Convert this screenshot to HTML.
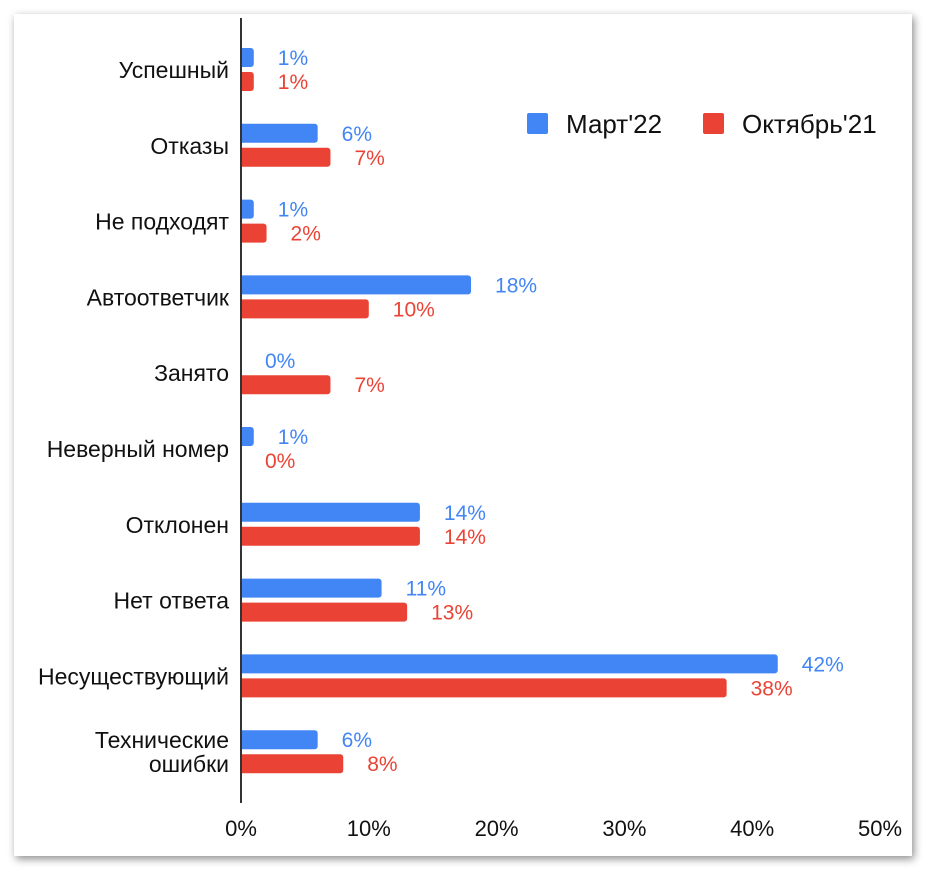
<!DOCTYPE html>
<html><head><meta charset="utf-8"><style>
body{margin:0;width:930px;height:874px;background:#fff;overflow:hidden;font-family:"Liberation Sans",Arial,sans-serif}
#card{position:absolute;left:14px;top:14px;width:898px;height:842px;background:#fff;box-shadow:2px 3px 8px rgba(0,0,0,0.45)}
svg{position:absolute;left:0;top:0}
</style></head><body>
<div id="card"></div>
<svg id="chart" width="930" height="874"></svg>
<script>
const categories=["Успешный","Отказы","Не подходят","Автоответчик","Занято","Неверный номер","Отклонен","Нет ответа","Несуществующий","Технические|ошибки"];
const march22=[1,6,1,18,0,1,14,11,42,6];
const oct21=[1,7,2,10,7,0,14,13,38,8];
const ticks=[0,10,20,30,40,50];
const seriesNames=["Март'22","Октябрь'21"];
const colors=["#4285f4","#ea4335"];
const svg=document.getElementById('chart');
const NS='http://www.w3.org/2000/svg';
const x0=241,pxPer=12.78;
const xs=v=>x0+v*pxPer;
const yc=i=>70+i*75.8;
function mk(t,a){const e=document.createElementNS(NS,t);for(const k in a)e.setAttribute(k,a[k]);svg.appendChild(e);return e;}
[march22,oct21].forEach((ser,s)=>{
 ser.forEach((v,i)=>{
  const y=s===0?yc(i)-22:yc(i)+2;
  const w=xs(v)-x0;
  if(w>0){const r=mk('path',{d:`M${x0},${y}h${Math.max(w-3,0)}a3,3 0 0 1 3,3v13a3,3 0 0 1 -3,3h${-Math.max(w-3,0)}z`,fill:colors[s]});
  
  }
  const t=mk('text',{x:xs(v)+24,y:y+17,fill:colors[s],'font-size':21});
  t.textContent=v+'%';
  
  
 });
});
categories.forEach((c,i)=>{
 const parts=c.split('|');
 parts.forEach((p,j)=>{
  const t=mk('text',{x:229,y:yc(i)+8+(j-(parts.length-1)/2)*24,'text-anchor':'end','font-size':23,fill:'#111'});
  t.textContent=p;
  
  
 });
});
const ax=mk('line',{x1:x0,y1:18,x2:x0,y2:803,stroke:'#333','stroke-width':2});


ticks.forEach(v=>{
 const t=mk('text',{x:xs(v),y:836,'text-anchor':'middle','font-size':22,fill:'#111'});
 t.textContent=v+'%';
 
 
});
const lx=[527,703];
seriesNames.forEach((n,s)=>{
 const r=mk('rect',{x:lx[s],y:113,width:21,height:21,fill:colors[s],rx:2});
 
 
 const t=mk('text',{x:lx[s]+39,y:133,'font-size':26,fill:'#111'});
 t.textContent=n;
 
 
});
</script>
</body></html>
